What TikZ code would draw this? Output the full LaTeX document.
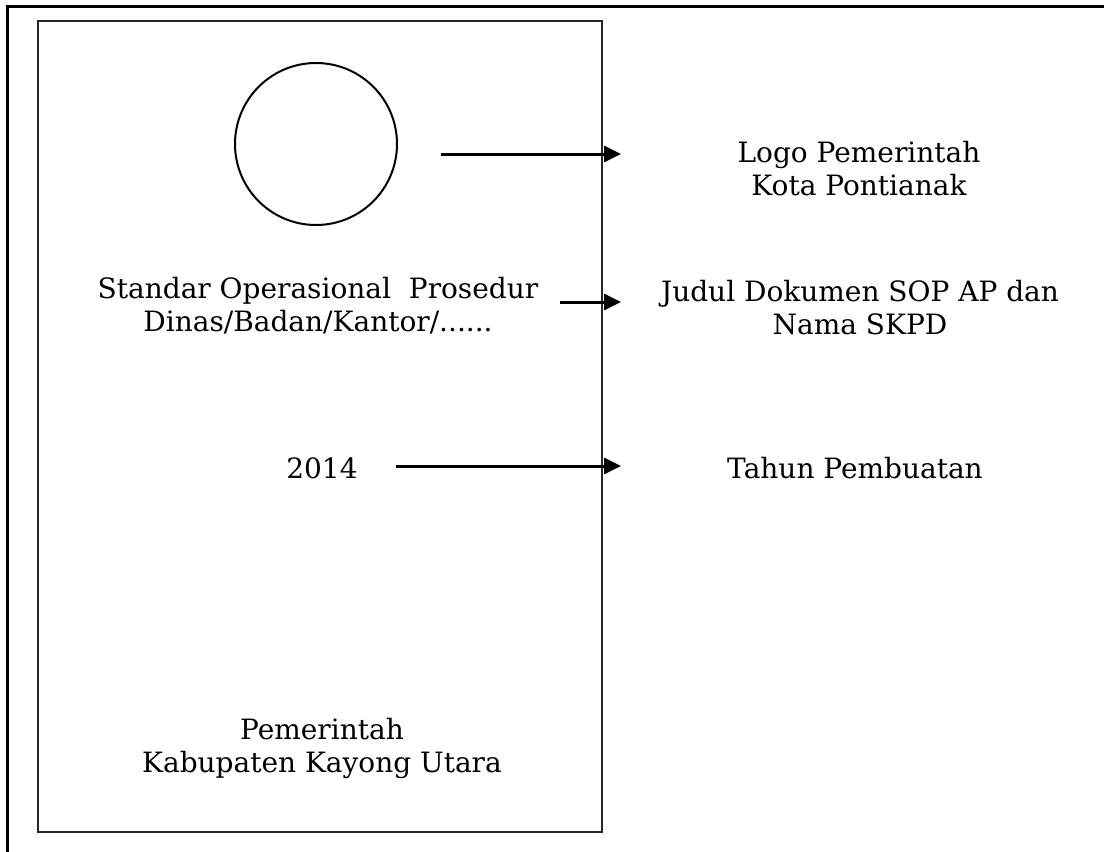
\documentclass[tikz,border=0pt]{standalone}
\usepackage{fontspec}
\setmainfont{DejaVu Serif}
\usepackage{tikz}
\usetikzlibrary{arrows.meta,positioning}

\begin{document}
\begin{tikzpicture}[x=1pt,y=-1pt,font=\fontsize{28}{33}\selectfont]%
            \useasboundingbox (0,0) rectangle (1104,852); %%
            \tikzstyle{panah}=[line width=3pt,-{Triangle[length=17pt,width=16pt]}] %%
            \draw[line width=3pt] (7,852)--(7,6)--(1104,6); %%
            \draw[line width=2pt,black!85] (38,21) rectangle (602,832); %%
            \begin{scope}[align=center,inner sep=0pt]%
            \tikzstyle{every node}=[align=center,inner sep=0pt] %%
            \node[draw,circle,line width=2pt,minimum size=162pt] (logo) at (316,144) {}; %%
            \node (judul) at (318,306) {Standar Operasional\ \ Prosedur\\Dinas/Badan/Kantor/......}; %%
            \node (tahun) at (322,468) {2014}; %%
            \node (pemda) at (322,748) {Pemerintah\\Kabupaten Kayong Utara}; %%
            \node (ketlogo) at (859,169) {Logo Pemerintah\\Kota Pontianak}; %%
            \node (ketjudul) at (860,308) {Judul Dokumen SOP AP dan\\Nama SKPD}; %%
            \node (kettahun) at (855,468) {Tahun Pembuatan}; %%
            \end{scope}
            \coordinate (a1) at (441,154); %%
            \coordinate (a2) at (560,302); %%
            \coordinate (a3) at (396,466); %%
            \coordinate (b1) at (621,154); %%
            \draw[panah] (a1)--(b1); %%
            \draw[panah] (a2)--(a2 -| b1); %%
            \draw[panah] (a3)--(a3 -| b1); %%
        \end{tikzpicture}
\end{document}
